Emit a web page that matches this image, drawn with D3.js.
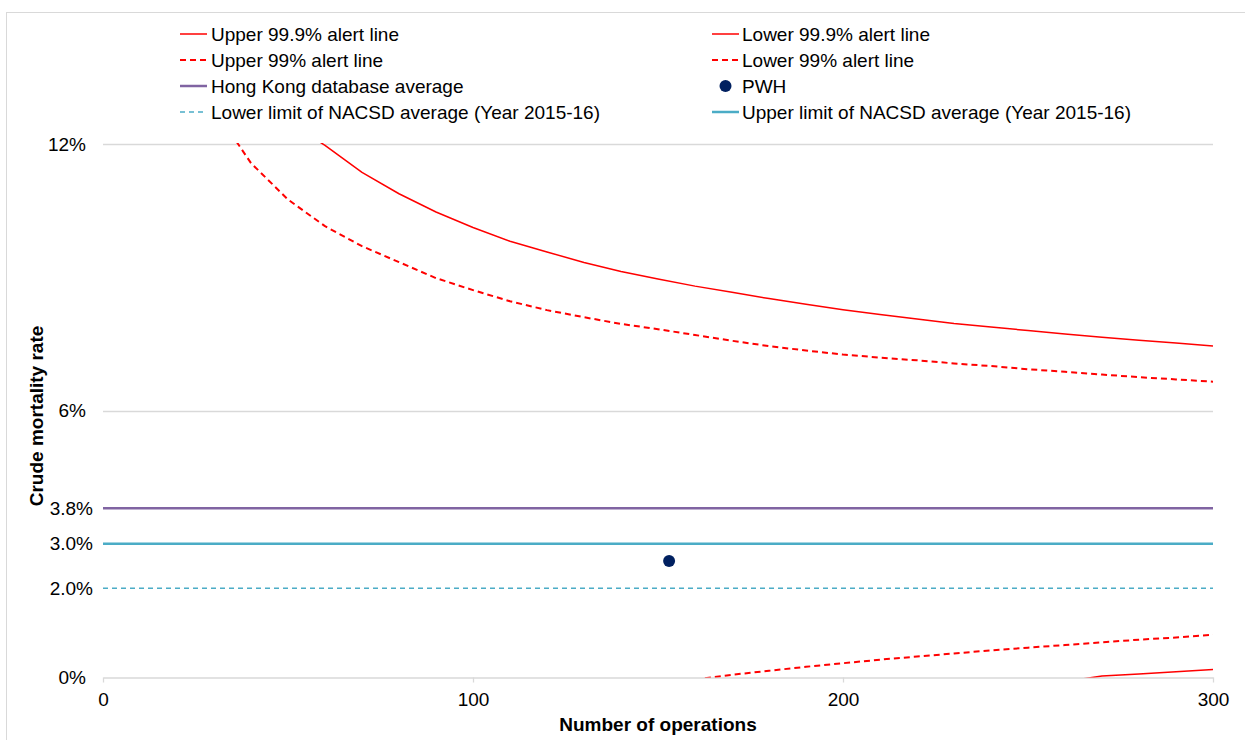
<!DOCTYPE html>
<html>
<head>
<meta charset="utf-8">
<script src="https://cdn.jsdelivr.net/npm/d3@7"></script>
<style>
  html, body { margin: 0; padding: 0; background: #fff; }
  svg { display: block; font-family: "Liberation Sans", Arial, sans-serif; }
</style>
</head>
<body>
<svg id="chart" width="1245" height="740"></svg>
<script>
// ---------------- data ----------------
const upper999Ops = [50,60,70,80,90,100,110,120,130,140,150,160,170,180,190,200,210,220,230,240,250,260,270,280,290,300];
const upper999 = [12.5,11.97,11.36,10.88,10.47,10.12,9.81,9.57,9.33,9.13,8.96,8.80,8.66,8.52,8.39,8.27,8.16,8.06,7.96,7.88,7.80,7.72,7.65,7.58,7.52,7.45];

const upper99Ops = [30,40,50,60,70,80,90,100,110,120,130,140,150,160,170,180,190,200,210,220,230,240,250,260,270,280,290,300];
const upper99 = [12.8,11.57,10.75,10.15,9.70,9.34,8.98,8.71,8.46,8.26,8.10,7.95,7.83,7.70,7.57,7.45,7.35,7.26,7.19,7.13,7.06,7.00,6.93,6.87,6.81,6.75,6.70,6.65];

const lower99Ops = [160,170,180,190,200,210,220,230,240,250,260,270,280,290,300];
const lower99 = [-0.06,0.05,0.14,0.23,0.31,0.39,0.46,0.53,0.60,0.66,0.72,0.78,0.84,0.89,0.95];

const lower999Ops = [260,270,280,290,300];
const lower999 = [-0.10,0.02,0.07,0.12,0.17];

const hkAverage = 3.8;          // Hong Kong database average
const nacsdUpper = 3.0;         // Upper limit of NACSD average
const nacsdLower = 2.0;         // Lower limit of NACSD average
const pwhOps = 153;
const pwhRate = 2.61;

const xTicks = [0, 100, 200, 300];
const yTicksMain = [0, 6, 12];
const yTicksRef = [2.0, 3.0, 3.8];
const xDomain = [0, 300];
const yDomain = [0, 12];

const xTitle = "Number of operations";
const yTitle = "Crude mortality rate";

const legendLeft = [
  {label: "Upper 99.9% alert line", kind: "redSolid"},
  {label: "Upper 99% alert line", kind: "redDash"},
  {label: "Hong Kong database average", kind: "purple"},
  {label: "Lower limit of NACSD average (Year 2015-16)", kind: "tealDash"}
];
const legendRight = [
  {label: "Lower 99.9% alert line", kind: "redSolid"},
  {label: "Lower 99% alert line", kind: "redDash"},
  {label: "PWH", kind: "dot"},
  {label: "Upper limit of NACSD average (Year 2015-16)", kind: "teal"}
];

// ---------------- styles ----------------
const styles = {
  redSolid: {stroke: "#ff0000", width: 1.5, dash: null},
  redDash:  {stroke: "#ff0000", width: 2, dash: "6,4"},
  purple:   {stroke: "#8064a2", width: 2.5, dash: null},
  teal:     {stroke: "#4bacc6", width: 2.5, dash: null},
  tealDash: {stroke: "#4bacc6", width: 1.5, dash: "5,4"}
};
const dotColor = "#002060";
const gridColor = "#d9d9d9";
const fontSize = 19;

// ---------------- layout ----------------
const svg = d3.select("#chart");
const plot = {left: 103, right: 1213, top: 144, bottom: 677};

const x = d3.scaleLinear().domain(xDomain).range([plot.left, plot.right]);
const y = d3.scaleLinear().domain(yDomain).range([plot.bottom, plot.top]);

// outer frame
svg.append("rect")
  .attr("x", 6.5).attr("y", 12.5)
  .attr("width", 1300).attr("height", 800)
  .attr("fill", "none").attr("stroke", gridColor).attr("stroke-width", 1);

// clip
svg.append("defs").append("clipPath").attr("id", "plotClip")
  .append("rect")
  .attr("x", plot.left).attr("y", plot.top - 1)
  .attr("width", plot.right - plot.left).attr("height", plot.bottom - plot.top + 1.5);

// gridlines (only at main non-zero ticks)
svg.append("g").selectAll("line")
  .data(yTicksMain.filter(d => d !== 0))
  .join("line")
  .attr("x1", plot.left).attr("x2", plot.right)
  .attr("y1", d => Math.round(y(d)) + 0.5).attr("y2", d => Math.round(y(d)) + 0.5)
  .attr("stroke", gridColor).attr("stroke-width", 1.3);

// x axis
const xAxis = svg.append("g")
  .attr("transform", `translate(0,${plot.bottom + 0.5})`)
  .call(d3.axisBottom(x).tickValues(xTicks).tickSize(5).tickSizeOuter(0).tickPadding(10).tickFormat(d3.format("d")));
xAxis.select(".domain").attr("stroke", gridColor).attr("stroke-width", 1.3);
xAxis.selectAll(".tick line").attr("stroke", gridColor).attr("stroke-width", 1.3);
xAxis.selectAll(".tick text").attr("font-size", fontSize).attr("fill", "#000")
  .attr("font-family", "Liberation Sans, Arial, sans-serif");

// y axis labels (main)
const yAxisMain = svg.append("g")
  .attr("transform", `translate(${plot.left},0)`)
  .call(d3.axisLeft(y).tickValues(yTicksMain).tickSize(0).tickPadding(17).tickFormat(d => d + "%"));
yAxisMain.select(".domain").remove();
yAxisMain.selectAll(".tick text").attr("font-size", fontSize).attr("fill", "#000")
  .attr("font-family", "Liberation Sans, Arial, sans-serif");

// y axis labels (reference values)
const yAxisRef = svg.append("g")
  .attr("transform", `translate(${plot.left},0)`)
  .call(d3.axisLeft(y).tickValues(yTicksRef).tickSize(0).tickPadding(10).tickFormat(d => d3.format(".1f")(d) + "%"));
yAxisRef.select(".domain").remove();
yAxisRef.selectAll(".tick text").attr("font-size", fontSize).attr("fill", "#000")
  .attr("font-family", "Liberation Sans, Arial, sans-serif");

// axis titles
svg.append("text")
  .attr("x", (plot.left + plot.right) / 2).attr("y", 731)
  .attr("text-anchor", "middle")
  .attr("font-size", fontSize).attr("font-weight", "bold").attr("fill", "#000")
  .text(xTitle);
svg.append("text")
  .attr("transform", `translate(43,416) rotate(-90)`)
  .attr("text-anchor", "middle")
  .attr("font-size", fontSize).attr("font-weight", "bold").attr("fill", "#000")
  .text(yTitle);

// series
const plotG = svg.append("g").attr("clip-path", "url(#plotClip)");
const line = d3.line().x(d => x(d[0])).y(d => y(d[1])).curve(d3.curveLinear);

function drawHLine(val, st) {
  plotG.append("line")
    .attr("x1", x(xDomain[0])).attr("x2", x(xDomain[1]))
    .attr("y1", y(val)).attr("y2", y(val))
    .attr("stroke", st.stroke).attr("stroke-width", st.width)
    .attr("stroke-dasharray", st.dash);
}
function drawSeries(ops, vals, st) {
  plotG.append("path")
    .datum(d3.zip(ops, vals))
    .attr("d", line)
    .attr("fill", "none")
    .attr("stroke", st.stroke).attr("stroke-width", st.width)
    .attr("stroke-dasharray", st.dash)
    .attr("stroke-linejoin", "round");
}

drawHLine(nacsdLower, styles.tealDash);
drawHLine(nacsdUpper, styles.teal);
drawHLine(hkAverage, styles.purple);
drawSeries(upper999Ops, upper999, styles.redSolid);
drawSeries(upper99Ops, upper99, styles.redDash);
drawSeries(lower999Ops, lower999, styles.redSolid);
drawSeries(lower99Ops, lower99, styles.redDash);

svg.append("circle")
  .attr("cx", x(pwhOps)).attr("cy", y(pwhRate)).attr("r", 6)
  .attr("fill", dotColor);

// legend
function drawLegend(items, sx, tx) {
  const rowY = [34, 60, 86, 112];
  items.forEach((it, i) => {
    const g = svg.append("g");
    const yy = rowY[i];
    if (it.kind === "dot") {
      g.append("circle").attr("cx", (sx + sx + 27) / 2).attr("cy", yy).attr("r", 6).attr("fill", dotColor);
    } else {
      const st = styles[it.kind];
      g.append("line").attr("x1", sx).attr("x2", sx + 27).attr("y1", yy).attr("y2", yy)
        .attr("stroke", st.stroke).attr("stroke-width", st.width).attr("stroke-dasharray", st.dash);
    }
    g.append("text").attr("x", tx).attr("y", yy).attr("dy", "0.35em")
      .attr("font-size", fontSize).attr("fill", "#000").text(it.label);
  });
}
drawLegend(legendLeft, 180, 211);
drawLegend(legendRight, 712, 742);
</script>
</body>
</html>
